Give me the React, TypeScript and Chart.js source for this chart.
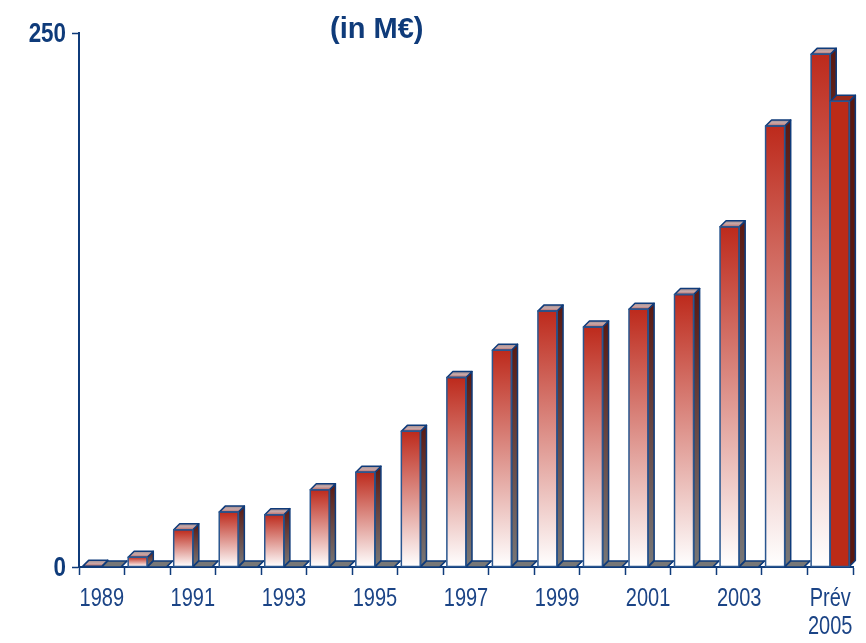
import React, { useEffect, useRef } from "react";
import { Chart, registerables } from "chart.js";

Chart.register(...registerables);

// Annual revenue, in millions of euros
const years: (string | string[])[] = [
  "1989", "1990", "1991", "1992", "1993", "1994", "1995", "1996",
  "1997", "1998", "1999", "2000", "2001", "2002", "2003", "2004",
  ["Prév", "2005"],
];
const revenue = [
  0.3, 4.6, 17.4, 25.7, 24.5, 36.2, 44.4, 63.5,
  88.7, 101.5, 119.8, 112.4, 120.7, 127.6, 159.3, 206.5, 240,
];
const forecast = [0, 0, 0, 0, 0, 0, 0, 0, 0, 0, 0, 0, 0, 0, 0, 0, 218];
const yTicks = [0, 250];
const titleText = "(in M€)";

const NAVY = "#0f3b7a";
const LABEL_BLUE = "#1b4486";
const SANS = '"Liberation Sans", Arial, sans-serif';
const NARROW_SCALE = 0.8;
const DEPTH = 6;

// Draws each bar as a small extruded box: front face, right side and top.
const boxBars = {
  id: "boxBars",
  afterDatasetsDraw(chart: any) {
    const ctx: CanvasRenderingContext2D = chart.ctx;
    const metas = [chart.getDatasetMeta(0), chart.getDatasetMeta(1)];
    const n = metas[0].data.length;
    ctx.save();
    ctx.lineJoin = "round";
    for (let i = 0; i < n; i++) {
      metas.forEach((meta: any, di: number) => {
        const el = meta.data[i];
        if (!el) return;
        const p = el.getProps(["x", "y", "base", "width"], true);
        const left = p.x - p.width / 2;
        const right = p.x + p.width / 2;
        const top = Math.min(p.y, p.base);
        const bottom = Math.max(p.y, p.base);
        const h = bottom - top;
        const flat = h < 0.5;

        // front
        if (!flat) {
          if (di === 0) {
            const g = ctx.createLinearGradient(0, top, 0, bottom);
            g.addColorStop(0, "#bd2a1c");
            g.addColorStop(1, "#ffffff");
            ctx.fillStyle = g;
          } else {
            ctx.fillStyle = "#bb2b18";
          }
          ctx.fillRect(left, top, p.width, h);
        }

        // right side
        ctx.beginPath();
        ctx.moveTo(right, top);
        ctx.lineTo(right + DEPTH, top - DEPTH);
        ctx.lineTo(right + DEPTH, bottom - DEPTH);
        ctx.lineTo(right, bottom);
        ctx.closePath();
        if (di === 0) {
          const g = ctx.createLinearGradient(0, top - DEPTH, 0, bottom);
          g.addColorStop(0, "#5a1912");
          g.addColorStop(1, "#777777");
          ctx.fillStyle = g;
        } else {
          ctx.fillStyle = flat ? "#777777" : "#5a1810";
        }
        ctx.fill();
        ctx.strokeStyle = NAVY;
        ctx.lineWidth = 1.5;
        ctx.stroke();

        // top
        ctx.beginPath();
        ctx.moveTo(left, top);
        ctx.lineTo(left + DEPTH, top - DEPTH);
        ctx.lineTo(right + DEPTH, top - DEPTH);
        ctx.lineTo(right, top);
        ctx.closePath();
        if (di === 0) {
          const g = ctx.createLinearGradient(0, top - DEPTH, 0, top);
          g.addColorStop(0, "#9c8c90");
          g.addColorStop(0.5, "#c9a8a8");
          g.addColorStop(1, "#b86a66");
          ctx.fillStyle = g;
        } else {
          ctx.fillStyle = flat ? "#777777" : "#9a2a1a";
        }
        ctx.fill();
        ctx.stroke();

        // front outline
        if (!flat) {
          ctx.strokeStyle = "#2a568f";
          ctx.lineWidth = 1.5;
          ctx.strokeRect(left, top, p.width, h);
        }
      });
    }
    ctx.restore();
  },
};

// Condensed tick labels and the unit caption.
const labelsAndCaption = {
  id: "labelsAndCaption",
  afterDraw(chart: any) {
    const ctx: CanvasRenderingContext2D = chart.ctx;
    const xs = chart.scales.x;
    const ys = chart.scales.y;
    ctx.save();

    const narrowText = (txt: string, x: number, y: number, align: CanvasTextAlign) => {
      ctx.save();
      ctx.translate(x, y);
      ctx.scale(NARROW_SCALE, 1);
      ctx.textAlign = align;
      ctx.fillText(txt, 0, 0);
      ctx.restore();
    };

    // category labels, every other year
    ctx.fillStyle = LABEL_BLUE;
    ctx.font = `25px ${SANS}`;
    ctx.textBaseline = "alphabetic";
    const base = xs.top + 38.5;
    years.forEach((lab, i) => {
      if (i % 2 !== 0) return;
      const x = xs.getPixelForTick(i);
      const lines = Array.isArray(lab) ? lab : [lab];
      lines.forEach((ln, k) => narrowText(ln, x, base + k * 28, "center"));
    });

    // value labels
    ctx.fillStyle = NAVY;
    ctx.font = `bold 28px ${SANS}`;
    ctx.textBaseline = "middle";
    yTicks.forEach((v) => {
      narrowText(String(v), ys.right - 13, ys.getPixelForValue(v) + 1.5, "right");
    });

    // unit caption
    ctx.font = `bold 29px ${SANS}`;
    ctx.textAlign = "left";
    ctx.textBaseline = "alphabetic";
    ctx.fillText(titleText, 330, 38);
    ctx.restore();
  },
};

export default function App() {
  const canvasRef = useRef<HTMLCanvasElement | null>(null);

  useEffect(() => {
    document.body.style.margin = "0";
    const canvas = canvasRef.current;
    if (!canvas) return;
    const chart = new Chart(canvas, {
      type: "bar",
      data: {
        labels: years,
        datasets: [
          { label: "Revenue", data: revenue, backgroundColor: "rgba(0,0,0,0)", borderWidth: 0 },
          { label: "Forecast", data: forecast, backgroundColor: "rgba(0,0,0,0)", borderWidth: 0 },
        ],
      },
      options: {
        responsive: false,
        animation: false,
        events: [],
        layout: { padding: { top: 33, right: 13, left: 0, bottom: 0 } },
        plugins: {
          legend: { display: false },
          title: { display: false },
          tooltip: { enabled: false },
        },
        datasets: {
          bar: { categoryPercentage: 0.84, barPercentage: 1 },
        },
        scales: {
          x: {
            offset: true,
            grid: {
              offset: true,
              drawOnChartArea: false,
              drawTicks: true,
              tickLength: 8,
              tickWidth: 1.5,
              tickColor: NAVY,
            },
            border: { display: true, color: NAVY, width: 2 },
            ticks: {
              autoSkip: false,
              maxRotation: 0,
              color: "rgba(0,0,0,0)",
              font: { family: SANS, size: 24 },
            },
            afterFit: (s: any) => {
              s.height = 76;
            },
          },
          y: {
            min: yTicks[0],
            max: yTicks[1],
            afterBuildTicks: (s: any) => {
              s.ticks = yTicks.map((v) => ({ value: v }));
            },
            grid: {
              drawOnChartArea: false,
              drawTicks: true,
              tickLength: 7,
              tickWidth: 1.5,
              tickColor: NAVY,
            },
            border: { display: true, color: NAVY, width: 2 },
            ticks: {
              color: "rgba(0,0,0,0)",
              font: { family: SANS, size: 28, weight: "bold" },
            },
            afterFit: (s: any) => {
              s.width = 79;
            },
          },
        },
      },
      plugins: [boxBars, labelsAndCaption],
    });
    return () => chart.destroy();
  }, []);

  return (
    <div style={{ width: 866, height: 643 }}>
      <canvas ref={canvasRef} width={866} height={643} />
    </div>
  );
}
